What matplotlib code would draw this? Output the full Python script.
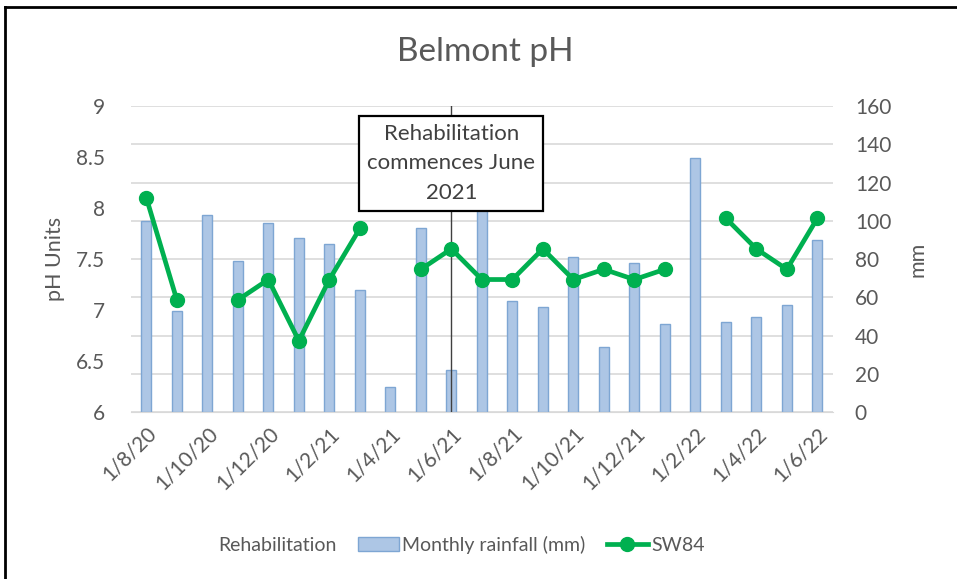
import numpy as np
import matplotlib
matplotlib.use('Agg')
import matplotlib.pyplot as plt
from matplotlib.lines import Line2D
from matplotlib.patches import Patch

plt.rcParams['font.family'] = ['Lato', 'DejaVu Sans']

# monthly data Aug 2020 - Jun 2022
months = ['1/8/20', '1/9/20', '1/10/20', '1/11/20', '1/12/20', '1/1/21', '1/2/21',
          '1/3/21', '1/4/21', '1/5/21', '1/6/21', '1/7/21', '1/8/21', '1/9/21',
          '1/10/21', '1/11/21', '1/12/21', '1/1/22', '1/2/22', '1/3/22', '1/4/22',
          '1/5/22', '1/6/22']
rainfall = [100, 53, 103, 79, 99, 91, 88, 64, 13, 96, 22, 115, 58, 55,
            81, 34, 78, 46, 133, 47, 50, 56, 90]
nan = np.nan
sw84 = [8.1, 7.1, nan, 7.1, 7.3, 6.7, 7.3, 7.8, nan, 7.4, 7.6, 7.3, 7.3, 7.6,
        7.3, 7.4, 7.3, 7.4, nan, 7.9, 7.6, 7.4, 7.9]
rehab_month = '1/6/21'
rehab_text = 'Rehabilitation\ncommences June\n2021'

grey = '#595959'
x = np.arange(len(months))

fig = plt.figure(figsize=(9.57, 5.79), dpi=100)
ax = fig.add_axes([0.137, 0.288, 0.733, 0.529])
ax2 = ax.twinx()

# bars on secondary axis, drawn underneath
ax2.bar(x, rainfall, width=0.33, color='#adc6e5', edgecolor='#7ea6d3', linewidth=1, zorder=2)
ax2.set_ylim(0, 160)
ax2.set_yticks(np.arange(0, 161, 20))
ax2.grid(axis='y', color='#d9d9d9', linewidth=1.2, zorder=0)
ax2.set_axisbelow(True)

ax.set_zorder(ax2.get_zorder() + 1)
ax.patch.set_visible(False)

ax.plot(x, sw84, color='#00b050', linewidth=3.4, marker='o', markersize=10, zorder=3)
xr = months.index(rehab_month)
ax.axvline(xr, color='#404040', linewidth=1, zorder=2)
ax.text(xr, 8.44, rehab_text, ha='center', va='center', fontsize=16, color='#404040',
        linespacing=1.6, zorder=5,
        bbox=dict(boxstyle='square,pad=0.36', facecolor='white', edgecolor='black', linewidth=1.6))

ax.set_ylim(6, 9)
ax.set_yticks(np.arange(6, 9.01, 0.5))
ax.set_yticklabels(['6', '6.5', '7', '7.5', '8', '8.5', '9'])
ax.set_xlim(-0.5, len(months) - 0.5)
ax.set_xticks(x[::2])
ax.set_xticklabels(months[::2], rotation=45, ha='right', rotation_mode='anchor')

for a in (ax, ax2):
    for s in a.spines.values():
        s.set_visible(False)
    a.tick_params(length=0, labelsize=15, labelcolor=grey)
ax.tick_params(axis='y', pad=18.5)
ax2.tick_params(axis='y', pad=16)
ax.tick_params(axis='x', pad=8)
ax2.spines['bottom'].set_visible(True)
ax2.spines['bottom'].set_color('#d9d9d9')

ax.set_ylabel('pH Units', fontsize=15.5, color=grey, labelpad=8)
ax2.set_ylabel('mm', fontsize=15.5, color=grey, labelpad=12)

fig.text(0.507, 0.91, 'Belmont pH', ha='center', va='center', fontsize=24, color=grey)

handles = [Line2D([], [], color='none'),
           Patch(facecolor='#adc6e5', edgecolor='#7ea6d3'),
           Line2D([], [], color='#00b050', linewidth=3.4, marker='o', markersize=10)]
labels = ['Rehabilitation', 'Monthly rainfall (mm)', 'SW84']
leg = fig.legend(handles, labels, loc='center', bbox_to_anchor=(0.459, 0.059), ncol=3,
                 frameon=False, fontsize=14, handlelength=2.1, handletextpad=0.2,
                 columnspacing=1.1)
for t in leg.get_texts():
    t.set_color(grey)

# chart border
fig.add_artist(Line2D([5 / 957, 5 / 957], [0, 1 - 7 / 579], transform=fig.transFigure,
                      color='black', linewidth=2))
fig.add_artist(Line2D([5 / 957, 1], [1 - 7 / 579, 1 - 7 / 579], transform=fig.transFigure,
                      color='black', linewidth=2))

fig.savefig('out.png', dpi=100)
